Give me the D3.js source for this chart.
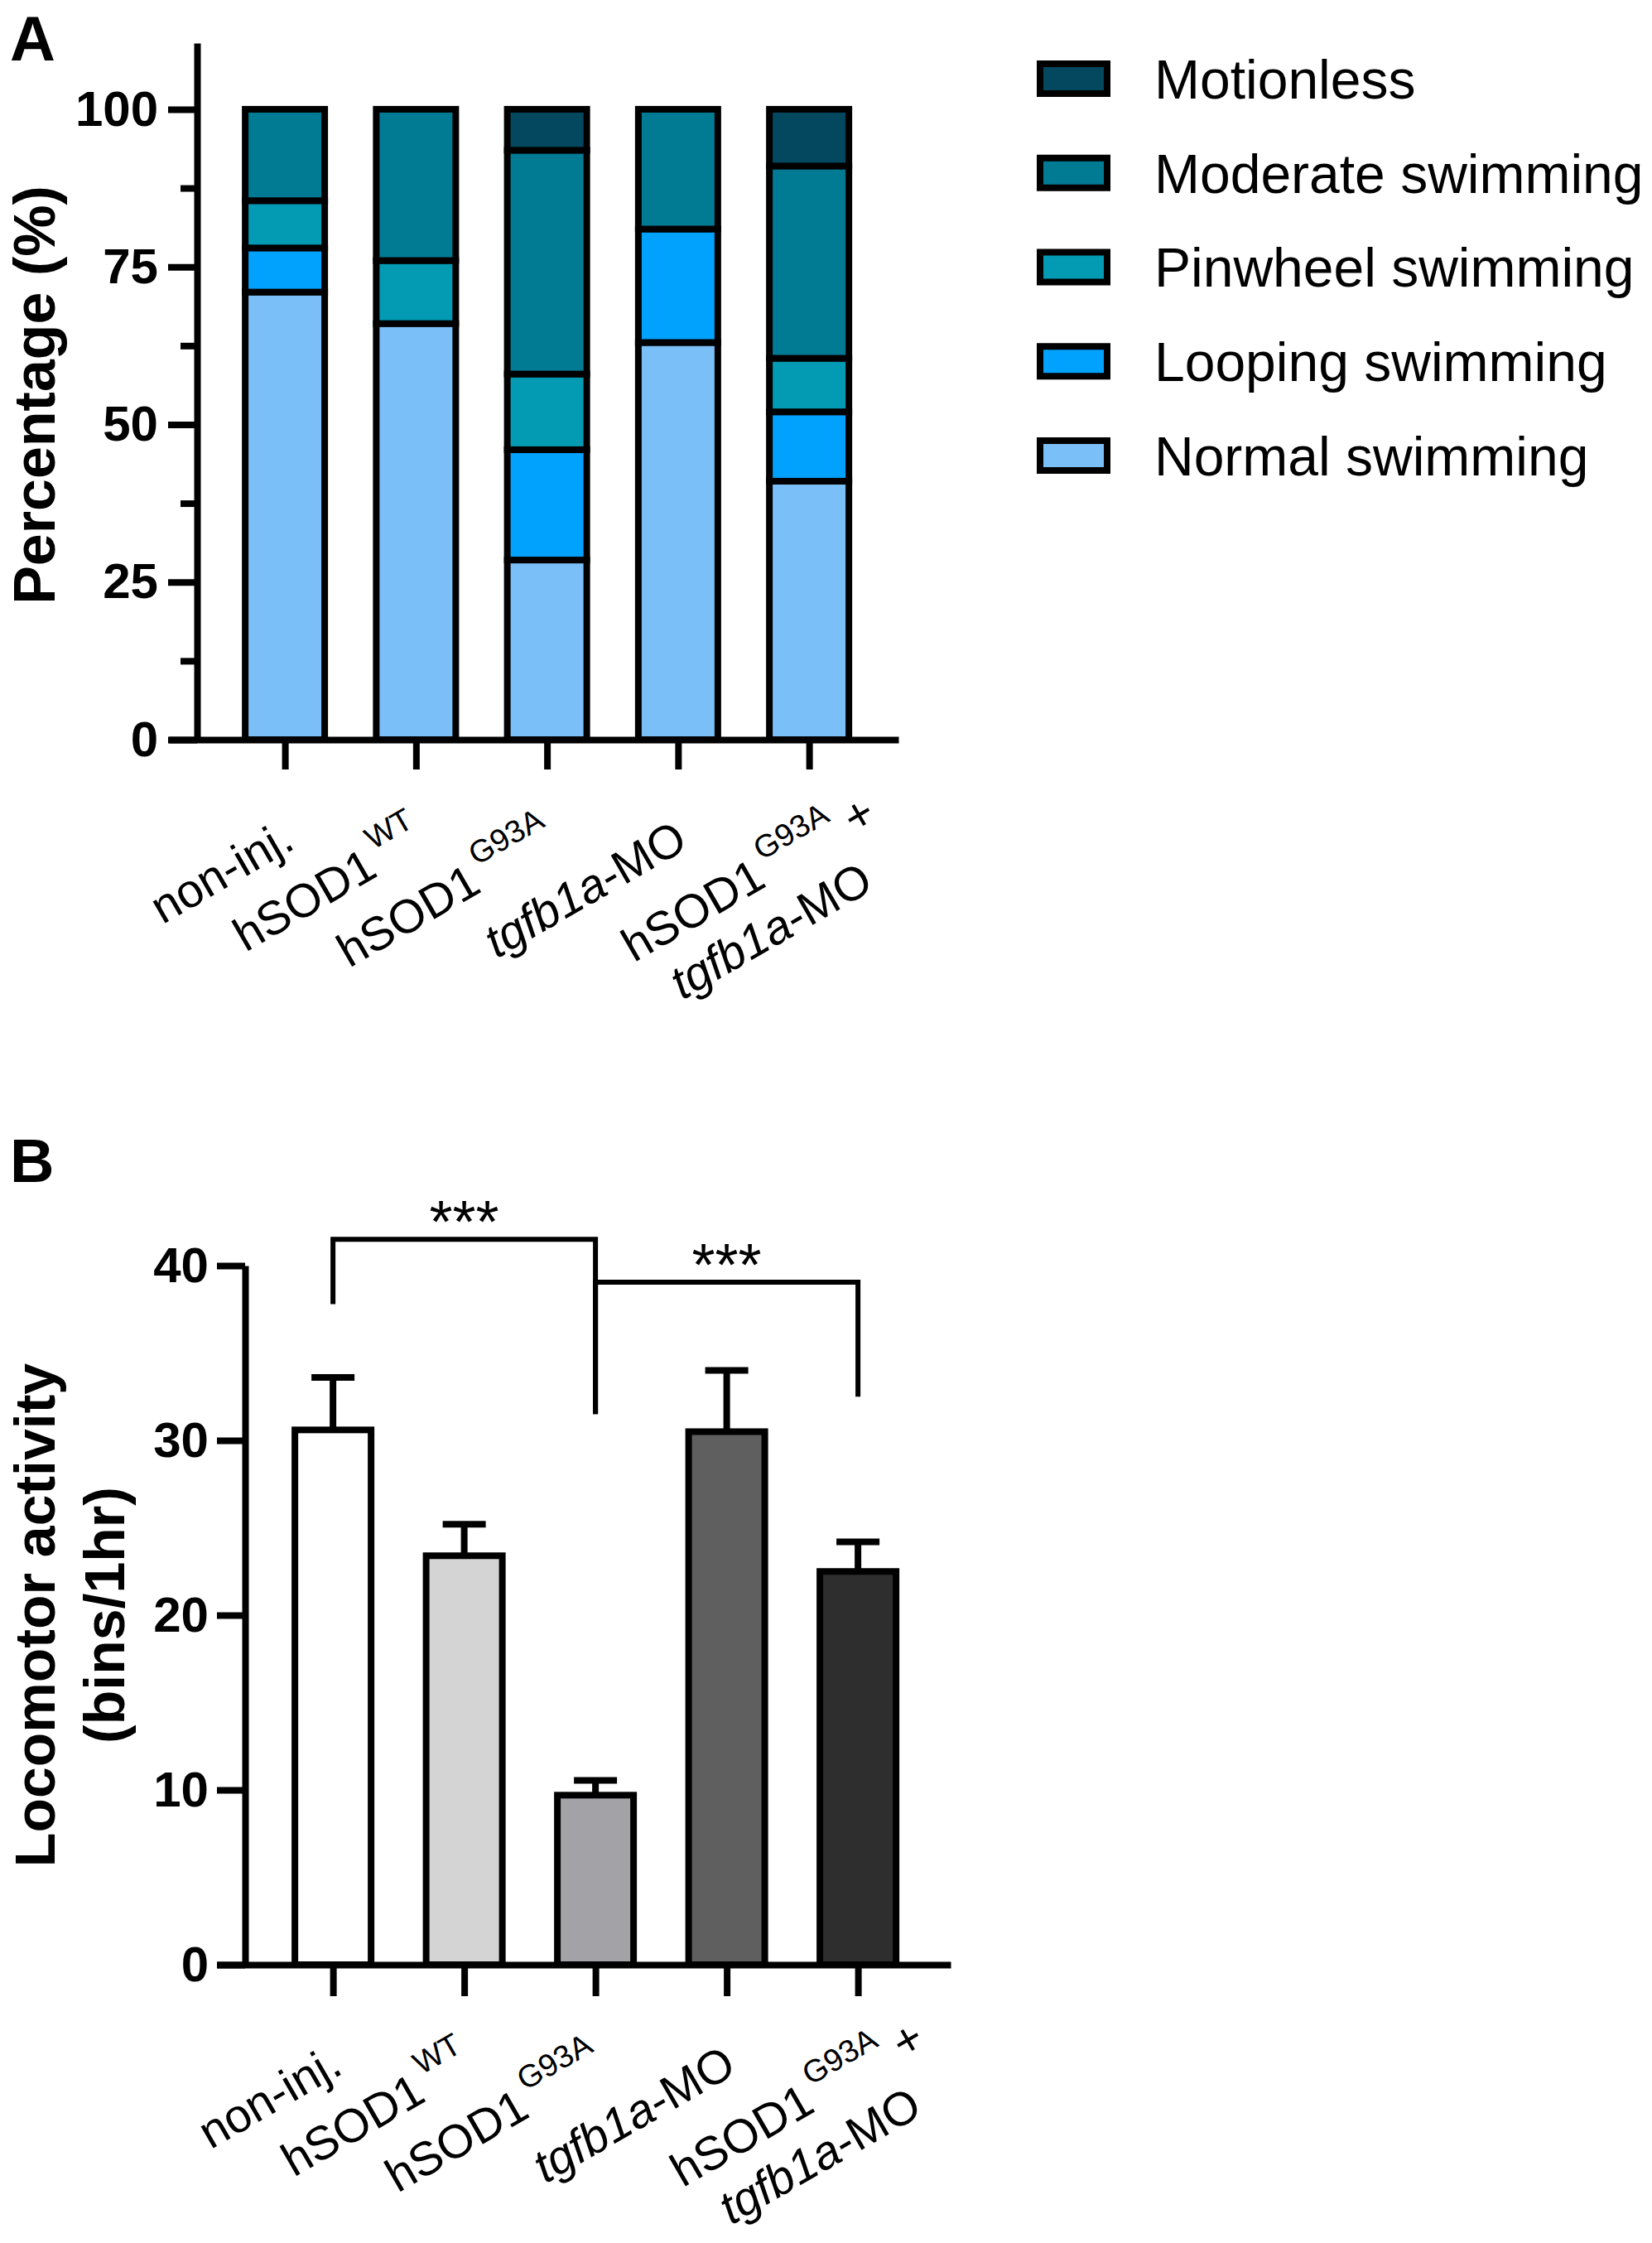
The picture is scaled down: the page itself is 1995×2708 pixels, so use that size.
<!DOCTYPE html>
<html>
<head>
<meta charset="utf-8">
<script src="https://cdn.jsdelivr.net/npm/d3@7"></script>
<style>
  body { margin: 0; background: #fff; }
  svg { display: block; }
  text { font-family: "Liberation Sans", Arial, sans-serif; fill: #000; }
</style>
</head>
<body>
<svg id="chart" width="1995" height="2708"></svg>
<script>
const groups = ["non-inj.", "hSOD1 WT", "hSOD1 G93A", "tgfb1a-MO", "hSOD1 G93A + tgfb1a-MO"];
// tick label pieces: sup = superscript, it = italic
const groupLabels = [
  [[{ t: "non-inj." }]],
  [[{ t: "hSOD1" }, { t: "WT", sup: true }]],
  [[{ t: "hSOD1" }, { t: "G93A", sup: true }]],
  [[{ t: "tgfb1a", it: true }, { t: "-MO" }]],
  [
    [{ t: "hSOD1" }, { t: "G93A", sup: true }, { t: " +" }],
    [{ t: "tgfb1a", it: true }, { t: "-MO" }],
  ],
];

// Panel A - swimming pattern (% of larvae), stacked bottom -> top
const patternKeys = ["normal", "looping", "pinwheel", "moderate", "motionless"];
const patternNames = ["Normal swimming", "Looping swimming", "Pinwheel swimming", "Moderate swimming", "Motionless"];
const normal = [71, 66, 28.5, 63, 41];
const looping = [7, 0, 17.5, 18, 11];
const pinwheel = [7.5, 10, 12, 0, 8.5];
const moderate = [14.5, 24, 35.5, 19, 30.5];
const motionless = [0, 0, 6.5, 0, 9];
const patternColors = ["#7bbff8", "#00a2fe", "#039ab3", "#017b94", "#03485f"];
const percentTicks = [0, 25, 50, 75, 100];
const percentMinorTicks = [12.5, 37.5, 62.5, 87.5];

// Panel B - locomotor activity (bins/1hr), mean + SEM
const activity = [30.6, 23.4, 9.7, 30.5, 22.5];
const activitySem = [3.0, 1.8, 0.85, 3.5, 1.7];
const activityColors = ["#ffffff", "#d4d4d4", "#a3a3a7", "#5f5f5f", "#2e2e2e"];
const activityTicks = [0, 10, 20, 30, 40];
const brackets = [
  { from: 0, to: 2, left: 37.8, top: 41.5, right: 31.5, label: "***" },
  { from: 2, to: 4, left: 31.5, top: 39.05, right: 32.5, label: "***" },
];

const svg = d3.select("#chart");
const lw = 8;

function styleAxis(g, fontSize) {
  g.attr("font-family", null).attr("font-size", null);
  g.selectAll("path, line").attr("stroke", "#000").attr("stroke-width", lw);
  g.selectAll("text")
    .attr("font-size", fontSize)
    .attr("font-weight", "bold")
    .attr("fill", "#000");
}

function drawTickLabels(g, x, axisY) {
  groupLabels.forEach((lines, i) => {
    const offsets = lines.length === 1 ? [[14, 130]] : [[84, 99], [80, 180]];
    lines.forEach((parts, j) => {
      const t = g
        .append("text")
        .attr(
          "transform",
          `translate(${x(groups[i]) + offsets[j][0]},${axisY + offsets[j][1]}) rotate(-30)`
        )
        .attr("text-anchor", "end")
        .attr("font-size", 57);
      let raised = false;
      parts.forEach((p) => {
        const s = t.append("tspan").text(p.t);
        if (p.it) s.attr("font-style", "italic");
        if (p.sup) {
          s.attr("font-size", 38).attr("dy", -30).attr("dx", 8);
          raised = true;
        } else if (raised) {
          s.attr("dy", 30);
          raised = false;
        }
      });
    });
  });
}

// ---------- Panel A ----------
const xA = d3.scalePoint().domain(groups).range([204, 1085]).padding(0.7835).align(0.565);
const yA = d3.scaleLinear().domain([0, 110.5]).range([893, 52]);

const tableA = groups.map((g, i) => ({
  group: g,
  normal: normal[i],
  looping: looping[i],
  pinwheel: pinwheel[i],
  moderate: moderate[i],
  motionless: motionless[i],
}));
const stackA = d3.stack().keys(patternKeys)(tableA);

const barsA = svg.append("g");
stackA.forEach((layer, k) => {
  barsA
    .selectAll(null)
    .data(layer.filter((d) => d[1] - d[0] > 0))
    .join("rect")
    .attr("x", (d) => xA(d.data.group) - 48)
    .attr("width", 96)
    .attr("y", (d) => yA(d[1]))
    .attr("height", (d) => yA(d[0]) - yA(d[1]))
    .attr("fill", patternColors[k])
    .attr("stroke", "#000")
    .attr("stroke-width", lw);
});

svg
  .append("g")
  .attr("transform", "translate(238,0)")
  .call(d3.axisLeft(yA).tickValues(percentMinorTicks).tickSize(20).tickFormat(""))
  .call((g) => g.select(".domain").remove())
  .call((g) => styleAxis(g, 60));

svg
  .append("g")
  .attr("transform", "translate(238,0)")
  .call(
    d3.axisLeft(yA).tickValues(percentTicks).tickSize(35).tickSizeOuter(0).tickPadding(12).tickFormat(d3.format("d"))
  )
  .call((g) => styleAxis(g, 60));

svg
  .append("g")
  .attr("transform", `translate(0,${yA(0)})`)
  .call(d3.axisBottom(xA).tickSize(36).tickSizeOuter(0).tickFormat(""))
  .call((g) => styleAxis(g, 57));

drawTickLabels(svg.append("g"), xA, yA(0));

svg
  .append("text")
  .attr("transform", "translate(66,477) rotate(-90)")
  .attr("text-anchor", "middle")
  .attr("font-size", 70)
  .attr("font-weight", "bold")
  .text("Percentage (%)");

svg.append("text").attr("x", 12).attr("y", 73).attr("font-size", 76).attr("font-weight", "bold").text("A");

// legend, top row = top of the stack
const legendOrder = patternNames.map((n, i) => ({ name: n, color: patternColors[i] })).reverse();
const yLeg = d3.scalePoint().domain(legendOrder.map((d) => d.name)).range([95, 550]);
const leg = svg.append("g");
leg
  .selectAll("rect")
  .data(legendOrder)
  .join("rect")
  .attr("x", 1256)
  .attr("y", (d) => yLeg(d.name) - 18)
  .attr("width", 81)
  .attr("height", 36)
  .attr("fill", (d) => d.color)
  .attr("stroke", "#000")
  .attr("stroke-width", lw);
leg
  .selectAll("text")
  .data(legendOrder)
  .join("text")
  .attr("x", 1394)
  .attr("y", (d) => yLeg(d.name))
  .attr("dy", "0.36em")
  .attr("font-size", 66)
  .text((d) => d.name);

// ---------- Panel B ----------
const xB = d3.scalePoint().domain(groups).range([262, 1148]).padding(0.795).align(0.556);
const yB = d3.scaleLinear().domain([0, 40]).range([2372, 1528]);

const err = svg.append("g").attr("stroke", "#000").attr("stroke-width", lw);
groups.forEach((g, i) => {
  const cx = xB(g);
  err
    .append("line")
    .attr("x1", cx)
    .attr("x2", cx)
    .attr("y1", yB(activity[i]))
    .attr("y2", yB(activity[i] + activitySem[i]));
  err
    .append("line")
    .attr("x1", cx - 26)
    .attr("x2", cx + 26)
    .attr("y1", yB(activity[i] + activitySem[i]))
    .attr("y2", yB(activity[i] + activitySem[i]));
});

svg
  .append("g")
  .selectAll("rect")
  .data(groups)
  .join("rect")
  .attr("x", (d) => xB(d) - 46)
  .attr("width", 92)
  .attr("y", (d, i) => yB(activity[i]))
  .attr("height", (d, i) => yB(0) - yB(activity[i]))
  .attr("fill", (d, i) => activityColors[i])
  .attr("stroke", "#000")
  .attr("stroke-width", lw);

svg
  .append("g")
  .attr("transform", "translate(296,0)")
  .call(
    d3.axisLeft(yB).tickValues(activityTicks).tickSize(34).tickSizeOuter(0).tickPadding(10).tickFormat(d3.format("d"))
  )
  .call((g) => styleAxis(g, 60));

svg
  .append("g")
  .attr("transform", `translate(0,${yB(0)})`)
  .call(d3.axisBottom(xB).tickSize(38).tickSizeOuter(0).tickFormat(""))
  .call((g) => styleAxis(g, 57));

drawTickLabels(svg.append("g"), xB, yB(0));

const br = svg.append("g");
brackets.forEach((b) => {
  const x0 = xB(groups[b.from]);
  const x1 = xB(groups[b.to]);
  br.append("path")
    .attr("d", `M${x0},${yB(b.left)}V${yB(b.top)}H${x1}V${yB(b.right)}`)
    .attr("fill", "none")
    .attr("stroke", "#000")
    .attr("stroke-width", 6);
  br.append("text")
    .attr("x", (x0 + x1) / 2)
    .attr("y", yB(b.top) + 4)
    .attr("text-anchor", "middle")
    .attr("font-size", 72)
    .text(b.label);
});

const titleB = svg.append("g").attr("font-size", 68).attr("font-weight", "bold").attr("text-anchor", "middle");
titleB.append("text").attr("transform", "translate(66,1950) rotate(-90)").text("Locomotor activity");
titleB.append("text").attr("transform", "translate(150,1950) rotate(-90)").text("(bins/1hr)");

svg.append("text").attr("x", 12).attr("y", 1427).attr("font-size", 74).attr("font-weight", "bold").text("B");
</script>
</body>
</html>
